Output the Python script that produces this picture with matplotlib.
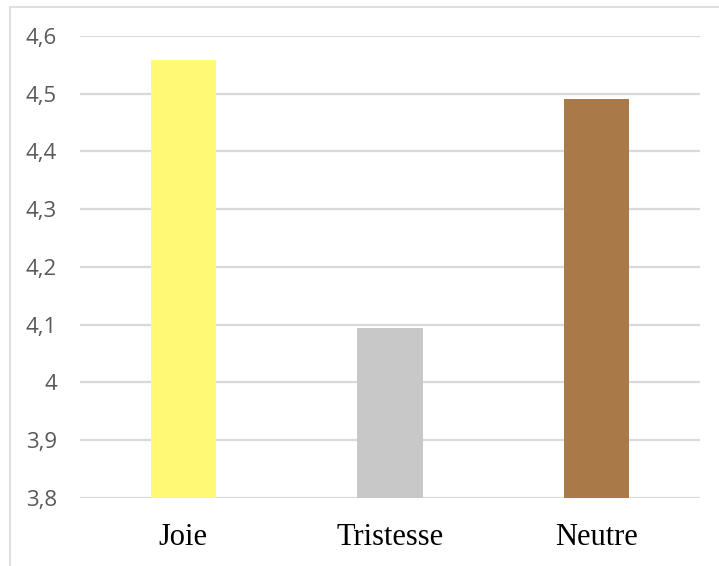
import matplotlib
matplotlib.use("Agg")
import matplotlib.pyplot as plt
from matplotlib.patches import Rectangle

categories = ["Joie", "Tristesse", "Neutre"]
values = [4.558, 4.094, 4.49]
colors = ["#FFFA75", "#C8C8C8", "#A97947"]
yticks = [3.8, 3.9, 4.0, 4.1, 4.2, 4.3, 4.4, 4.5, 4.6]
ytick_labels = ["3,8", "3,9", "4", "4,1", "4,2", "4,3", "4,4", "4,5", "4,6"]

W, H = 719, 566
fig = plt.figure(figsize=(W / 100, H / 100), dpi=100)
# chart area border
fig.patches.append(Rectangle((10 / W, -0.05), 1.0, (H - 7) / H + 0.05,
                             transform=fig.transFigure, fill=False,
                             edgecolor="#D9D9D9", linewidth=1.2))

ax = fig.add_axes([80 / W, 1 - 497.7 / H, 620 / W, (497.7 - 36) / H])
x = range(len(categories))
ax.bar(x, values, width=0.315, color=colors, zorder=3)
ax.set_xlim(-0.5, 2.5)
ax.set_ylim(3.8, 4.6)
ax.set_yticks(yticks)
ax.set_yticklabels(ytick_labels, fontsize=16, color="#595959",
                   family=["Open Sans", "DejaVu Sans"])
ax.set_xticks(list(x))
ax.set_xticklabels(categories, fontsize=22, color="black",
                   family=["Liberation Serif", "DejaVu Serif"])
ax.tick_params(axis="y", length=0, pad=16.5)
ax.tick_params(axis="x", length=0, pad=18)
ax.grid(axis="y", color="#D9D9D9", linewidth=1.6, zorder=0)
for s in ax.spines.values():
    s.set_visible(False)

fig.savefig("out.png", dpi=100)
